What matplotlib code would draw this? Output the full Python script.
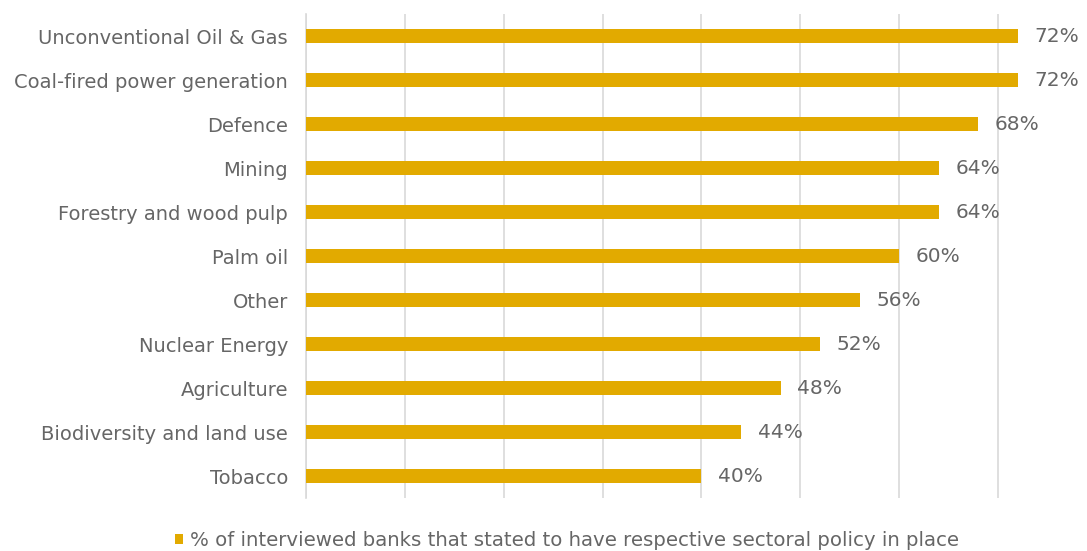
import matplotlib
matplotlib.use("Agg")
import matplotlib.pyplot as plt

# data
sectors = ["Unconventional Oil & Gas", "Coal-fired power generation", "Defence",
           "Mining", "Forestry and wood pulp", "Palm oil", "Other",
           "Nuclear Energy", "Agriculture", "Biodiversity and land use", "Tobacco"]
shares = [72, 72, 68, 64, 64, 60, 56, 52, 48, 44, 40]
series_name = "% of interviewed banks that stated to have respective sectoral policy in place"

gold = "#E2AA00"
grey_txt = "#666666"
grid_col = "#D9D9D9"

plt.rcParams['font.family'] = ['DejaVu Sans']

fig = plt.figure(figsize=(10.87, 5.51), dpi=100)
ax = fig.add_axes([306 / 1087, 53 / 551, 1 - 306 / 1087, 484 / 551])

ypos = list(range(len(sectors)))
bars = ax.barh(ypos, shares, height=0.3, color=gold, zorder=3, label=series_name)

for b, v in zip(bars, shares):
    ax.annotate(f"{v}%", xy=(b.get_width(), b.get_y() + b.get_height() / 2),
                xytext=(12, 0), textcoords="offset points", va="center", ha="left",
                fontsize=14.5, color=grey_txt)

ax.set_xlim(0, 79)
ax.set_ylim(len(sectors) - 0.5, -0.5)
ax.set_yticks(ypos)
ax.set_yticklabels(sectors, fontsize=14, color=grey_txt)
ax.set_xticks(range(0, 80, 10))
ax.tick_params(axis="x", bottom=False, labelbottom=False)
ax.tick_params(axis="y", length=0, pad=13)
ax.grid(axis="x", color=grid_col, linewidth=1.2, zorder=0)
for s in ["top", "right", "bottom"]:
    ax.spines[s].set_visible(False)
ax.spines["left"].set_color(grid_col)
ax.spines["left"].set_linewidth(1.2)

fig.legend(handles=[bars], labels=[series_name], loc="lower center",
           bbox_to_anchor=(567 / 1087, -0.03), frameon=False, fontsize=14.2,
           handlelength=0.4, handleheight=0.4, handletextpad=0.35,
           labelcolor=grey_txt)

fig.savefig("out.png", dpi=100)
